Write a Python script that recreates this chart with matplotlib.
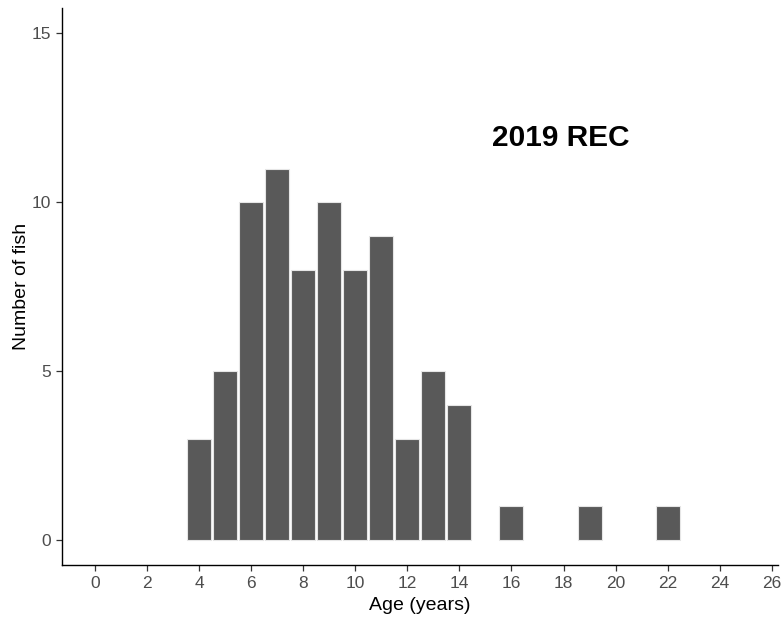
import matplotlib.pyplot as plt

# Age composition of the 2019 recreational sample
ages = [4, 5, 6, 7, 8, 9, 10, 11, 12, 13, 14, 16, 19, 22]
counts = [3, 5, 10, 11, 8, 10, 8, 9, 3, 5, 4, 1, 1, 1]
x_ticks = list(range(0, 27, 2))
y_ticks = [0, 5, 10, 15]

plt.rcParams['font.family'] = ['Liberation Sans', 'DejaVu Sans']

fig = plt.figure(figsize=(7.84, 6.21), dpi=100)
ax = fig.add_axes([0.079, 0.090, 0.913, 0.897])

ax.bar(ages, counts, width=0.92, color='#595959', edgecolor='#e6e6e6', linewidth=0.8)

ax.set_xlim(-1.27, 26.23)
ax.set_ylim(-0.74, 15.75)
ax.set_xticks(x_ticks)
ax.set_yticks(y_ticks)

for side in ['top', 'right']:
    ax.spines[side].set_visible(False)
for side in ['left', 'bottom']:
    ax.spines[side].set_linewidth(1.0)
    ax.spines[side].set_color('black')

ax.tick_params(axis='both', length=4, width=0.9, color='#333333',
               labelcolor='#4d4d4d', labelsize=12.5, pad=4)

ax.set_xlabel('Age (years)', fontsize=14, labelpad=4)
ax.set_ylabel('Number of fish', fontsize=14, labelpad=1)

ax.text(17.9, 11.9, '2019 REC', fontsize=21.5, fontweight='bold',
        ha='center', va='center', color='black')

fig.savefig('out.png', dpi=100)
